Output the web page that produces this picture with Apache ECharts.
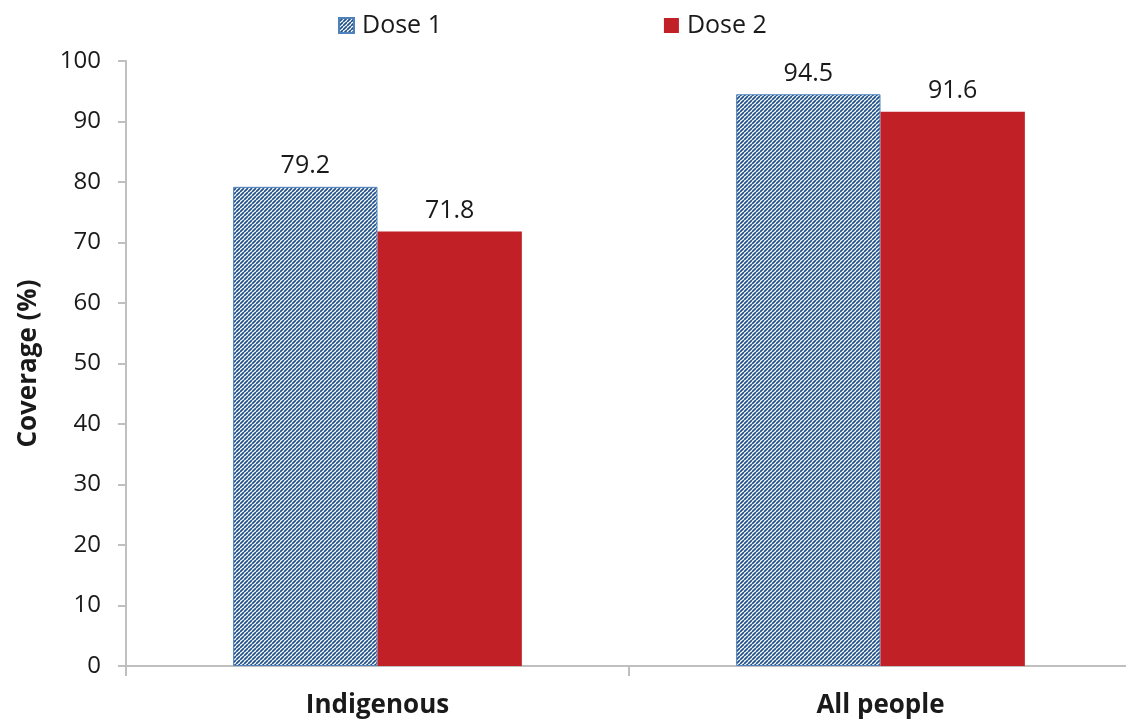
<!DOCTYPE html>
<html><head><meta charset="utf-8">
<script src="https://cdn.jsdelivr.net/npm/echarts@6/dist/echarts.min.js"></script>
<style>html,body{margin:0;padding:0;background:#fff;overflow:hidden}#c{width:1132px;height:724px}</style>
</head><body><div id="c"></div>
<script>
const categories = ['Indigenous', 'All people'];
const dose1 = [79.2, 94.5];
const dose2 = [71.8, 91.6];
const yTicks = [0, 100, 10];

function hatch() {
  const c = document.createElement('canvas');
  c.width = 4; c.height = 4;
  const g = c.getContext('2d');
  g.fillStyle = '#ffffff'; g.fillRect(0, 0, 4, 4);
  g.strokeStyle = '#1f5089'; g.lineWidth = 1.7;
  g.beginPath();
  for (let k = -4; k <= 8; k += 4) { g.moveTo(k, 4); g.lineTo(k + 4, 0); }
  g.stroke();
  return c;
}
const pat = { image: hatch(), repeat: 'repeat' };
const font = 'Open Sans, Liberation Sans, sans-serif';

const chart = echarts.init(document.getElementById('c'));
chart.setOption({
  animation: false,
  textStyle: { fontFamily: font },
  legend: {
    top: 8, left: 333, itemGap: 222, itemWidth: 15, itemHeight: 15,
    textStyle: { fontSize: 25, color: '#1a1a1a', fontFamily: font, padding: [0, 0, 0, 3] },
    data: [{ name: 'Dose 1', icon: 'rect' }, { name: 'Dose 2', icon: 'rect' }]
  },
  grid: { left: 126, right: 0, top: 61, bottom: 58 },
  xAxis: {
    type: 'category', data: categories,
    axisLine: { lineStyle: { color: '#bfbfbf', width: 2 } },
    axisTick: { show: true, length: 10, lineStyle: { color: '#bfbfbf', width: 2 } },
    axisLabel: { fontSize: 26, fontWeight: 'bold', color: '#1a1a1a', margin: 27, fontFamily: font }
  },
  yAxis: {
    type: 'value', min: yTicks[0], max: yTicks[1], interval: yTicks[2],
    name: 'Coverage (%)', nameLocation: 'middle', nameGap: 84,
    nameTextStyle: { fontSize: 26, fontWeight: 'bold', color: '#1a1a1a', fontFamily: font },
    axisLine: { show: true, lineStyle: { color: '#bfbfbf', width: 2 } },
    axisTick: { show: true, length: 8, lineStyle: { color: '#bfbfbf', width: 2 } },
    splitLine: { show: false },
    axisLabel: { fontSize: 24, color: '#1a1a1a', margin: 25, fontFamily: font }
  },
  series: [
    {
      name: 'Dose 1', type: 'bar', data: dose1, barWidth: '28.7%', barGap: '0%',
      itemStyle: { color: pat, borderColor: '#4f81bd', borderWidth: 1 },
      label: { show: true, position: 'top', distance: 8, fontSize: 25, color: '#1a1a1a', fontFamily: font, formatter: p => p.value.toFixed(1) }
    },
    {
      name: 'Dose 2', type: 'bar', data: dose2, barWidth: '28.7%',
      itemStyle: { color: '#c02026' },
      label: { show: true, position: 'top', distance: 8, fontSize: 25, color: '#1a1a1a', fontFamily: font, formatter: p => p.value.toFixed(1) }
    }
  ]
});
</script></body></html>
